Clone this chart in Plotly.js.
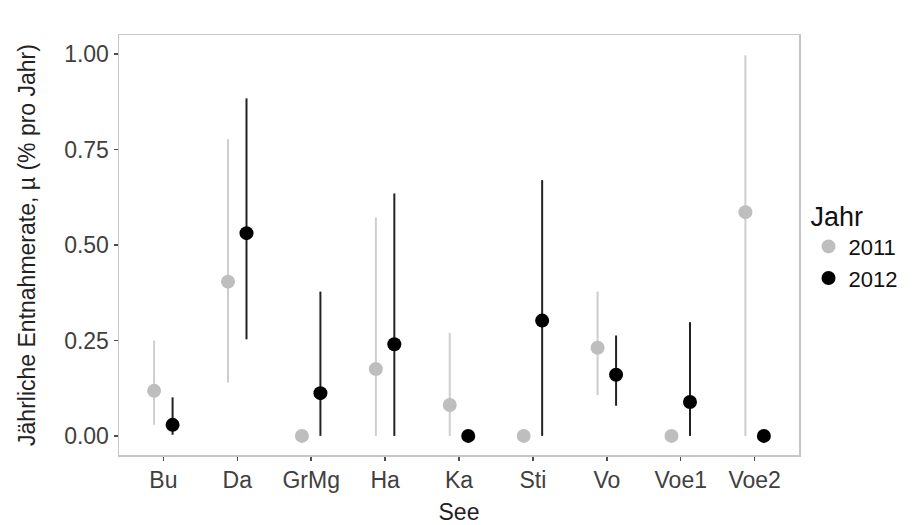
<!DOCTYPE html>
<html>
<head>
<meta charset="utf-8">
<script src="https://cdn.plot.ly/plotly-3.0.1.min.js"></script>
<style>html,body{margin:0;padding:0;background:#fff}#chart{width:916px;height:525px}</style>
</head>
<body>
<div id="chart"></div>
<script>
const categories = ["Bu","Da","GrMg","Ha","Ka","Sti","Vo","Voe1","Voe2"];
const years = ["2011","2012"];
const mu2011 = [0.118, 0.404, 0.000, 0.175, 0.081, 0.000, 0.231, 0.000, 0.586];
const lo2011 = [0.029, 0.140, 0.000, 0.000, 0.000, 0.000, 0.107, 0.000, 0.000];
const hi2011 = [0.250, 0.777, 0.000, 0.572, 0.270, 0.000, 0.378, 0.000, 0.997];
const mu2012 = [0.029, 0.531, 0.112, 0.240, 0.000, 0.302, 0.160, 0.089, 0.000];
const lo2012 = [0.003, 0.253, 0.000, 0.000, 0.000, 0.000, 0.079, 0.000, 0.000];
const hi2012 = [0.101, 0.884, 0.378, 0.635, 0.000, 0.670, 0.263, 0.298, 0.000];
const yTicks = [0, 0.25, 0.5, 0.75, 1.0];
const yTickText = ["0.00","0.25","0.50","0.75","1.00"];

const dodge = 0.125;
function mk(name, mu, lo, hi, color, lineColor, off) {
  return {
    type: 'scatter', mode: 'markers', name: name,
    x: categories.map((c, i) => i + off),
    y: mu,
    marker: {color: color, size: 14},
    error_y: {
      type: 'data', symmetric: false,
      array: hi.map((h, i) => h - mu[i]),
      arrayminus: lo.map((l, i) => mu[i] - l),
      color: lineColor, thickness: 2, width: 0
    },
    hoverinfo: 'x+y'
  };
}
const data = [
  mk(years[0], mu2011, lo2011, hi2011, '#bebebe', '#cdcdcd', -dodge),
  mk(years[1], mu2012, lo2012, hi2012, '#000000', '#222222', dodge)
];
const fam = 'Liberation Sans, Arial, sans-serif';
const axFont = {family: fam, size: 23, color: '#404040'};
const layout = {
  width: 916, height: 525,
  margin: {l: 119, r: 117, t: 35, b: 70},
  paper_bgcolor: '#fff', plot_bgcolor: '#fff',
  font: {family: fam, color: '#222'},
  showlegend: true,
  xaxis: {
    range: [-0.6, 8.6], tickvals: categories.map((c, i) => i), ticktext: categories,
    showgrid: false, zeroline: false, showline: true, mirror: true,
    linecolor: '#c6c6c6', linewidth: 1.5,
    ticks: 'outside', ticklen: 4, tickwidth: 1.5, tickcolor: '#4d4d4d',
    tickfont: axFont,
    title: {text: 'See', font: {family: fam, size: 23, color: '#222'}, standoff: 12}
  },
  yaxis: {
    range: [-0.05, 1.05], tickvals: yTicks, ticktext: yTickText,
    showgrid: false, zeroline: false, showline: true, mirror: true,
    linecolor: '#c6c6c6', linewidth: 1.5,
    ticks: 'outside', ticklen: 4, tickwidth: 1.5, tickcolor: '#4d4d4d',
    tickfont: axFont,
    title: {text: 'Jährliche Entnahmerate, µ (% pro Jahr)', font: {family: fam, size: 23, color: '#222'}, standoff: 22}
  },
  legend: {
    x: 1.014, xanchor: 'left', y: 0.5, yanchor: 'middle',
    title: {text: 'Jahr', font: {family: fam, size: 27, color: '#111'}},
    font: {family: fam, size: 22, color: '#111'},
    bgcolor: 'rgba(0,0,0,0)', itemwidth: 30, tracegroupgap: 0
  }
};
Plotly.newPlot('chart', data, layout, {displayModeBar: false, staticPlot: true});
</script>
</body>
</html>
